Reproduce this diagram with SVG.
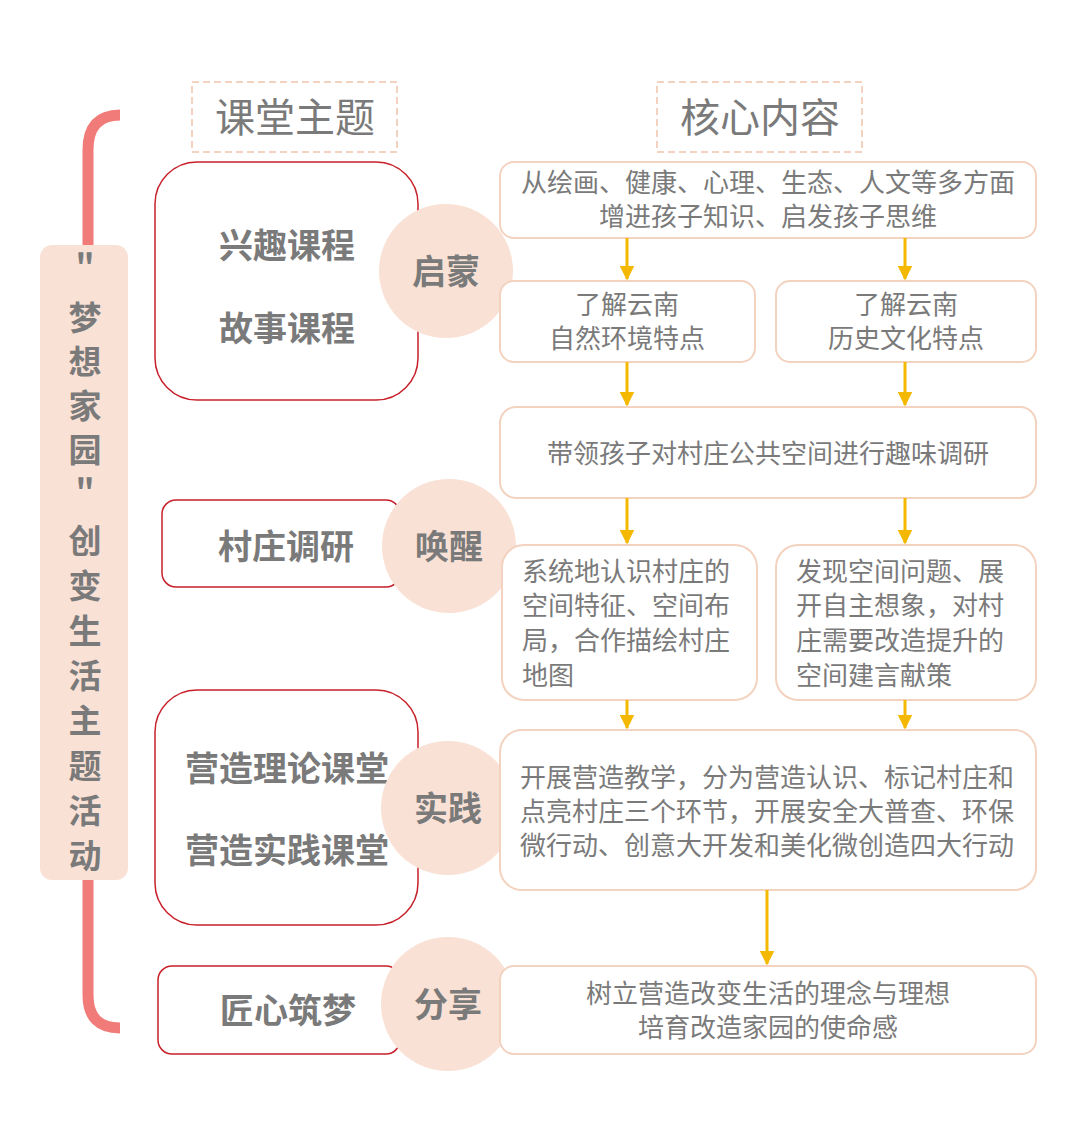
<svg xmlns="http://www.w3.org/2000/svg" width="1080" height="1128" viewBox="0 0 1080 1128">
<style>
.t{font-family:"Noto Sans CJK SC","Noto Sans",sans-serif;fill:#7a7a7a}
.b{font-weight:bold}
.box{fill:#fff;stroke:#f3d3bf;stroke-width:2}
.red{fill:#fff;stroke:#c8202a;stroke-width:1.5}
.circ{fill:#f9e1d5}
.arr{stroke:#f5b800;stroke-width:3;fill:none;marker-end:url(#ah)}
</style>
<defs><marker id="ah" viewBox="0 0 10 10" refX="9" refY="5" markerWidth="5" markerHeight="5" orient="auto"><path d="M0,0L10,5L0,10z" fill="#f5b800"/></marker></defs>
<rect width="1080" height="1128" fill="#fff"/>
<g id="bracket"><path d="M120,115 Q88,115 88,150 V995 Q88,1028 120,1028" fill="none" stroke="#f07b78" stroke-width="11"/>
<rect x="40" y="245" width="88" height="635" rx="12" fill="#f9e1d5"/>
<g class="t b" font-size="33" text-anchor="middle">
<text x="85" y="278">"</text><text x="85" y="330">梦</text><text x="85" y="374">想</text><text x="85" y="418">家</text><text x="85" y="462">园</text><text x="85" y="503">"</text>
<text x="85" y="553">创</text><text x="85" y="598">变</text><text x="85" y="643">生</text><text x="85" y="688">活</text><text x="85" y="733">主</text><text x="85" y="778">题</text><text x="85" y="823">活</text><text x="85" y="868">动</text></g></g>
<g id="h1"><rect x="192" y="82" width="205" height="70" fill="none" stroke="#f3d3bf" stroke-width="2" stroke-dasharray="7,4"/><text class="t" x="295" y="132" font-size="40" text-anchor="middle">课堂主题</text></g>
<g id="h2"><rect x="657" y="82" width="205" height="70" fill="none" stroke="#f3d3bf" stroke-width="2" stroke-dasharray="7,4"/><text class="t" x="760" y="132" font-size="40" text-anchor="middle">核心内容</text></g>
<g id="theme1"><rect class="red" x="155" y="162" width="263" height="238" rx="42"/><text class="t b" x="287" y="258" font-size="34" text-anchor="middle">兴趣课程</text><text class="t b" x="287" y="341" font-size="34" text-anchor="middle">故事课程</text></g>
<g id="theme2"><rect class="red" x="162" y="500" width="238" height="87" rx="14"/><text class="t b" x="286" y="559" font-size="34" text-anchor="middle">村庄调研</text></g>
<g id="theme3"><rect class="red" x="155" y="690" width="263" height="235" rx="42"/><text class="t b" x="287" y="781" font-size="34" text-anchor="middle">营造理论课堂</text><text class="t b" x="287" y="863" font-size="34" text-anchor="middle">营造实践课堂</text></g>
<g id="theme4"><rect class="red" x="158" y="966" width="242" height="88" rx="14"/><text class="t b" x="288" y="1023" font-size="34" text-anchor="middle">匠心筑梦</text></g>
<g id="c1"><circle class="circ" cx="446" cy="271" r="67"/><text class="t b" x="446" y="284" font-size="34" text-anchor="middle">启蒙</text></g>
<g id="c2"><circle class="circ" cx="449" cy="546" r="67"/><text class="t b" x="449" y="559" font-size="34" text-anchor="middle">唤醒</text></g>
<g id="c3"><circle class="circ" cx="448" cy="808" r="67"/><text class="t b" x="448" y="821" font-size="34" text-anchor="middle">实践</text></g>
<g id="c4"><circle class="circ" cx="448" cy="1004" r="67"/><text class="t b" x="448" y="1017" font-size="34" text-anchor="middle">分享</text></g>
<g class="t" font-size="26">
<g id="b1"><rect class="box" x="500" y="162" width="536" height="76" rx="14"/><text x="768" y="192" text-anchor="middle">从绘画、健康、心理、生态、人文等多方面</text><text x="768" y="226" text-anchor="middle">增进孩子知识、启发孩子思维</text></g>
<g id="b2"><rect class="box" x="500" y="281" width="255" height="81" rx="14"/><text x="627" y="314" text-anchor="middle">了解云南</text><text x="627" y="348" text-anchor="middle">自然环境特点</text></g>
<g id="b3"><rect class="box" x="776" y="281" width="260" height="81" rx="14"/><text x="906" y="314" text-anchor="middle">了解云南</text><text x="906" y="348" text-anchor="middle">历史文化特点</text></g>
<g id="b4"><rect class="box" x="500" y="407" width="536" height="91" rx="16"/><text x="768" y="463" text-anchor="middle">带领孩子对村庄公共空间进行趣味调研</text></g>
<g id="b5"><rect class="box" x="502" y="545" width="255" height="155" rx="22"/><text x="522" y="581">系统地认识村庄的</text><text x="522" y="615">空间特征、空间布</text><text x="522" y="650">局，合作描绘村庄</text><text x="522" y="685">地图</text></g>
<g id="b6"><rect class="box" x="776" y="545" width="260" height="155" rx="22"/><text x="796" y="581">发现空间问题、展</text><text x="796" y="615">开自主想象，对村</text><text x="796" y="650">庄需要改造提升的</text><text x="796" y="685">空间建言献策</text></g>
<g id="b7"><rect class="box" x="500" y="730" width="536" height="160" rx="22"/><text x="520" y="787">开展营造教学，分为营造认识、标记村庄和</text><text x="520" y="821">点亮村庄三个环节，开展安全大普查、环保</text><text x="520" y="855">微行动、创意大开发和美化微创造四大行动</text></g>
<g id="b8"><rect class="box" x="500" y="966" width="536" height="88" rx="14"/><text x="768" y="1003" text-anchor="middle">树立营造改变生活的理念与理想</text><text x="768" y="1037" text-anchor="middle">培育改造家园的使命感</text></g>
</g>
<g id="connectors">
<path class="arr" d="M627,238V279"/><path class="arr" d="M905,238V279"/>
<path class="arr" d="M627,362V405"/><path class="arr" d="M905,362V405"/>
<path class="arr" d="M627,498V543"/><path class="arr" d="M905,498V543"/>
<path class="arr" d="M627,700V728"/><path class="arr" d="M905,700V728"/>
<path class="arr" d="M767,890V964"/>
</g>
</svg>
